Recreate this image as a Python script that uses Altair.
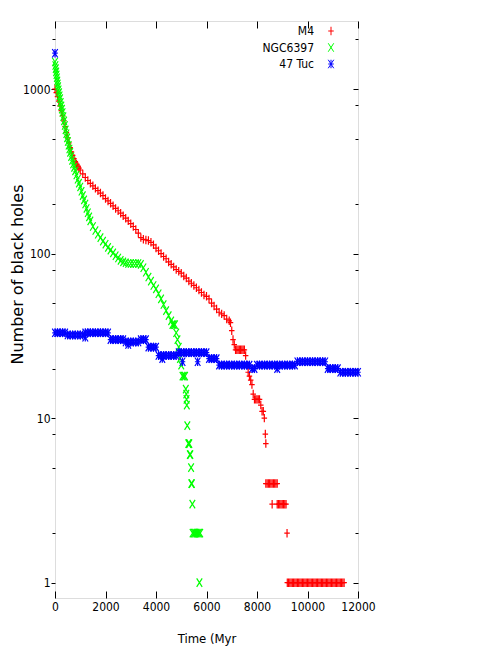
import altair as alt
import pandas as pd

SERIES = ["M4", "NGC6397", "47 Tuc"]
COLORS = ["#ff0000", "#00ff00", "#0000ff"]
SHAPES = [
    "M-0.65,0L0.65,0M0,-1L0,1",
    "M-0.65,-1L0.65,1M-0.65,1L0.65,-1",
    "M-0.65,0L0.65,0M0,-1L0,1M-0.65,-1L0.65,1M-0.65,1L0.65,-1",
]

X_TICKS = [0, 2000, 4000, 6000, 8000, 10000, 12000]
Y_MAJOR = [1, 10, 100, 1000]
Y_MINOR = [2, 5, 8, 20, 50, 80, 200, 500, 800, 2000]

M4_T = [0, 50, 100, 150, 200, 250, 300, 350, 400, 450, 500, 550,
        600, 650, 700, 750, 800, 850, 900, 950, 1000, 1100, 1200, 1300, 1400, 1500,
        1600, 1700, 1800, 1900, 2000, 2100, 2200, 2300, 2400, 2500, 2600, 2700, 2800,
        2900, 3000, 3100, 3200, 3300, 3400, 3500, 3600, 3700, 3800, 3900, 4000, 4100,
        4200, 4300, 4400, 4500, 4600, 4700, 4800, 4900, 5000, 5100, 5200, 5300, 5400,
        5500, 5600, 5700, 5800, 5900, 6000, 6100, 6200, 6300, 6400, 6500, 6600, 6700,
        6800, 6900, 6950, 7000, 7050, 7100, 7150, 7200, 7250, 7300, 7350, 7400, 7450,
        7500, 7550, 7600, 7650, 7700, 7750, 7800, 7850, 7900, 7950, 8000, 8050, 8100,
        8150, 8200, 8250, 8290, 8330, 8350,
        8350, 8400, 8450, 8500, 8550, 8600, 8650, 8700, 8750, 8800,
        8600, 8800, 8850, 8900, 8950, 9000, 9050, 9100, 9150,
        9190,
        9200, 9250, 9300, 9350, 9400, 9450, 9500, 9550, 9600, 9650, 9700, 9750, 9800,
        9850, 9900, 9950, 10000, 10050, 10100, 10150, 10200, 10250, 10300, 10350,
        10400, 10450, 10500, 10550, 10600, 10650, 10700, 10750, 10800, 10850, 10900,
        10950, 11000, 11050, 11100, 11150, 11200, 11250, 11300, 11350, 11400, 11450]
M4_N = [1000, 950, 900, 845, 790, 740, 690, 640, 590, 545, 505, 470,
        440, 415, 395, 378, 362, 350, 340, 331, 322, 305, 290, 278, 267, 258,
        249, 241, 233, 225, 216, 209, 202, 195, 188, 182, 176, 170, 164,
        158, 152, 146, 140, 133, 125, 122, 121, 120, 117, 113, 108, 104,
        100, 96, 93, 89, 86, 83, 80, 78, 76, 73, 71, 68, 66,
        64, 62, 60, 58, 56, 55, 53, 50, 48, 46, 44, 43, 42,
        40, 39, 38, 34, 30, 28, 26, 26, 26, 26, 26, 26, 26,
        26, 24, 21, 19, 18, 17, 16, 14, 13, 13, 13, 13, 13,
        12, 11, 11, 10, 8, 7,
        4, 4, 4, 4, 4, 4, 4, 4, 4, 4,
        3, 3, 3, 3, 3, 3, 3, 3, 3,
        2,
        1, 1, 1, 1, 1, 1, 1, 1, 1, 1, 1, 1, 1,
        1, 1, 1, 1, 1, 1, 1, 1, 1, 1, 1,
        1, 1, 1, 1, 1, 1, 1, 1, 1, 1, 1,
        1, 1, 1, 1, 1, 1, 1, 1, 1, 1, 1]

NGC_T = [0, 15, 30, 45, 60, 75, 90, 105, 120, 140, 160, 180, 200, 225, 250, 275, 300,
         330, 360, 390, 420, 450, 480, 510, 540, 570, 600, 640, 680, 720, 760, 800,
         850, 900, 950, 1000, 1050, 1100, 1150, 1200, 1250, 1300, 1350, 1400, 1500,
         1600, 1700, 1800, 1900, 2000, 2100, 2200, 2300, 2400, 2500, 2600, 2700, 2800,
         2900, 3000, 3100, 3200, 3300, 3400, 3500, 3600, 3700, 3800, 3900, 4000, 4100,
         4200, 4300, 4400, 4500, 4600, 4650, 4700, 4750, 4800, 4850, 4900, 4950, 5000,
         5050, 5100, 5150, 5180, 5200, 5210, 5220, 5240, 5280, 5300, 5320, 5340, 5360,
         5390, 5400, 5420, 5440,
         5450, 5500, 5550, 5600, 5650, 5700, 5750, 5720]
NGC_N = [1460, 1390, 1330, 1270, 1220, 1170, 1120, 1075, 1035, 990, 950, 910, 875, 830,
         790, 755, 720, 680, 640, 600, 565, 535, 505, 480, 455, 432, 412, 388, 368, 350,
         334, 318, 300, 283, 268, 254, 239, 225, 212, 200, 188, 177, 167, 158, 146,
         138, 131, 125, 119, 114, 109, 105, 101, 97, 94, 91, 89, 88,
         87, 87, 87, 87, 87, 86, 82, 77, 72, 68, 64, 61, 57,
         53, 49, 45, 42, 39, 37, 37, 37, 33, 30, 27, 23, 21,
         18, 18, 18, 15, 14, 13, 12, 9, 7, 7, 7, 6, 6,
         5, 4, 4, 3,
         2, 2, 2, 2, 2, 2, 2, 1]

TUC_T = [0, 0, 100, 200, 300, 400, 500, 600, 700, 800, 900, 1000, 1100, 1200, 1300,
         1400, 1500, 1600, 1700, 1800, 1900, 2000, 2100, 2200, 2300, 2400, 2500, 2600,
         2700, 2800, 2900, 3000, 3100, 3200, 3300, 3400, 3500, 3600, 3700, 3800, 3900,
         4000, 4100, 4200, 4300, 4400, 4500, 4600, 4700, 4800, 4900, 5000, 5100, 5200,
         5300, 5400, 5500, 5600, 5700, 5800, 5900, 6000, 6100, 6200, 6300, 6400, 6500,
         6600, 6700, 6800, 6900, 7000, 7100, 7200, 7300, 7400, 7500, 7600, 7700, 7800,
         7900, 8000, 8100, 8200, 8300, 8400, 8500, 8600, 8700, 8800, 8900, 9000, 9100,
         9200, 9300, 9400, 9500, 9600, 9700, 9800, 9900, 10000, 10100, 10200, 10300,
         10400, 10500, 10600, 10700, 10800, 10900, 11000, 11100, 11200, 11300, 11400,
         11500, 11600, 11700, 11800, 11900, 12000,
         1200, 2900, 4250, 5050, 5650, 8800]
TUC_N = [1650, 33, 33, 33, 33, 33, 32, 32, 32, 32, 32, 32, 32, 33, 33,
         33, 33, 33, 33, 33, 33, 33, 33, 30, 30, 30, 30, 30,
         30, 29, 29, 29, 29, 29, 29, 30, 30, 30, 27, 27, 27,
         27, 24, 24, 24, 24, 24, 24, 24, 24, 25, 25, 25, 25,
         25, 25, 25, 25, 25, 25, 25, 25, 23, 23, 23, 23, 21,
         21, 21, 21, 21, 21, 21, 21, 21, 21, 21, 21, 21, 20,
         20, 21, 21, 21, 21, 21, 21, 21, 21, 21, 21, 21, 21,
         21, 21, 21, 21, 22, 22, 22, 22, 22, 22, 22, 22,
         22, 22, 22, 22, 20, 20, 20, 20, 20, 19, 19,
         19, 19, 19, 19, 19, 19,
         31, 28, 23, 22, 22, 20]

frames = []
for name, ts, ns in [("M4", M4_T, M4_N), ("NGC6397", NGC_T, NGC_N), ("47 Tuc", TUC_T, TUC_N)]:
    frames.append(pd.DataFrame({"t": ts, "n": ns, "s": name}))
df = pd.concat(frames, ignore_index=True)
df["i"] = range(len(df))

FONT = "Liberation Sans Narrow, DejaVu Sans Condensed, Liberation Sans, sans-serif"

xs = alt.Scale(domain=[0, 12000], nice=False, zero=False)
ys = alt.Scale(type="log", domain=[0.807, 2590], nice=False)

leg = alt.Legend(
    title=None, orient="none", legendX=270, legendY=4, labelAlign="right",
    labelOffset={"expr": "-23"}, padding=0, symbolSize=72, symbolStrokeWidth=1,
    labelFont=FONT, labelFontSize=12, labelColor="black", rowPadding=2.5,
    gridAlign="all",
)

points = alt.Chart(df).mark_point(filled=False, size=72, strokeWidth=1.2, opacity=1).encode(
    x=alt.X("t:Q", scale=xs, axis=alt.Axis(
        orient="bottom", values=X_TICKS, ticks=False, tickSize=0, domain=False, grid=False,
        labelFont=FONT, labelFontSize=12, labelColor="black", labelPadding=3,
        labelFlush=False, labelOverlap=False, format="d",
        title="Time (Myr", titleFont=FONT, titleFontSize=13, titleFontWeight="normal",
        titleColor="black", titlePadding=20)),
    y=alt.Y("n:Q", scale=ys, axis=alt.Axis(
        orient="left", values=Y_MAJOR, tickSize=4, tickColor="black", domain=False,
        grid=False, labelFont=FONT, labelFontSize=12, labelColor="black",
        labelPadding=1, format="d",
        title="Number of black holes", titleFont="DejaVu Sans", titleFontSize=16,
        titleFontWeight="normal", titleColor="black", titleX=-30, titleY=253,
        titleAngle=-90, titleAlign="center", titleBaseline="bottom")),
    color=alt.Color("s:N", scale=alt.Scale(domain=SERIES, range=COLORS), sort=SERIES, legend=leg),
    shape=alt.Shape("s:N", scale=alt.Scale(domain=SERIES, range=SHAPES), sort=SERIES, legend=leg),
    order=alt.Order("i:Q"),
)

ghost = alt.Chart(pd.DataFrame({"t": [X_TICKS[0]], "n": [Y_MAJOR[0]]})).mark_point(opacity=0)

g1 = ghost.encode(
    x=alt.X("t:Q", scale=xs, axis=alt.Axis(
        orient="bottom", values=X_TICKS, labels=False, domain=False, grid=False,
        tickSize=7, offset=-7, tickColor="black", title=None)),
    y=alt.Y("n:Q", scale=ys, axis=alt.Axis(
        orient="left", values=Y_MINOR, labels=False, domain=False, grid=False,
        tickSize=3, tickColor="black", title=None)),
)
g2 = ghost.encode(
    x=alt.X("t:Q", scale=xs, axis=alt.Axis(
        orient="top", values=X_TICKS, labels=False, domain=False, grid=False,
        tickSize=7, offset=-7, tickColor="black", title=None)),
    y=alt.Y("n:Q", scale=ys, axis=alt.Axis(
        orient="right", values=Y_MAJOR, labels=False, domain=False, grid=False,
        tickSize=5, offset=-5, tickColor="black", title=None)),
)
g3 = ghost.encode(
    x=alt.X("t:Q", scale=xs, axis=None),
    y=alt.Y("n:Q", scale=ys, axis=alt.Axis(
        orient="right", values=Y_MINOR, labels=False, domain=False, grid=False,
        tickSize=3, offset=-3, tickColor="black", title=None)),
)

chart = (
    alt.layer(points, g1, g2, g3)
    .resolve_axis(x="independent", y="independent")
    .properties(
        width=303, height=577,
        padding={"left": 47, "top": 13, "right": 100, "bottom": 48},
        autosize=alt.AutoSizeParams(type="none"),
    )
    .configure_view(stroke="black", strokeWidth=1)
    .configure(background="white")
)

chart.save("out.html", embed_options={"renderer": "svg", "actions": False})
